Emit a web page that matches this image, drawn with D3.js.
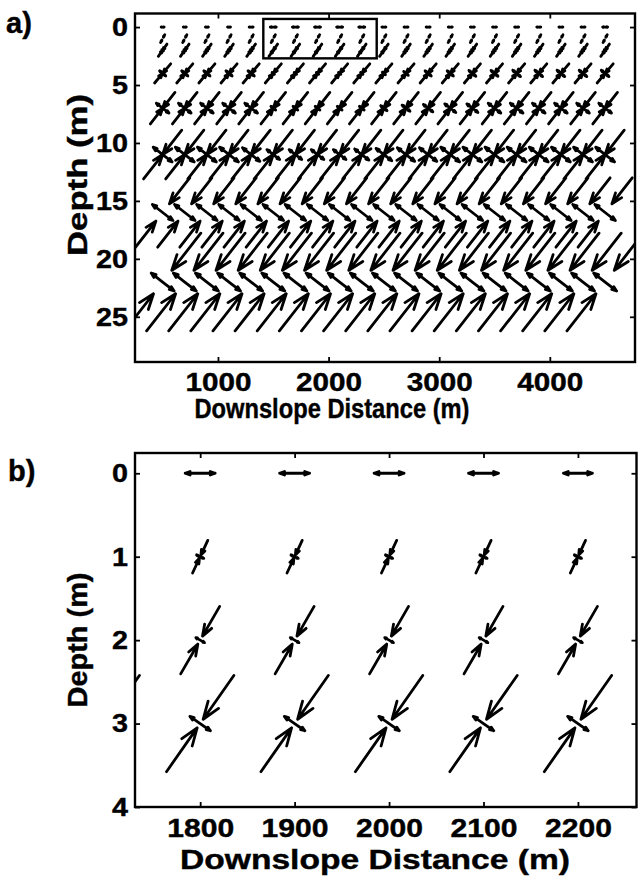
<!DOCTYPE html>
<html><head><meta charset="utf-8">
<script src="https://cdn.jsdelivr.net/npm/d3@7"></script>
<style>
body{margin:0;background:#fff}
svg text{font-family:"Liberation Sans",Arial,Helvetica,sans-serif;font-weight:bold;fill:#000;stroke:#000;stroke-width:0.4}
</style>
</head><body>
<svg id="chart" width="639" height="880"></svg>
<script>
// ---------------- Panel a data ----------------
const distA  = [500,700,900,1100,1300,1500,1700,1900,2100,2300,2500,2700,2900,3100,3300,3500,3700,3900,4100,4300,4500];
const depthA = [0,1,2,4,7,11,16,22];
// orientation of principal stress 1 (degrees from horizontal, as plotted)
const angleA = [0,62,55,50,52,52,52,52];
// principal stress 1 (kPa, negative = compression), one row per depth
const s1A = [
  [3,3,3,3,4,6,6,6,6,6,4,4,4,4,4,4,4,4,4,4,5],
  [-9,-9,-9,-9,-9,-9,-9,-9,-9,-9,-9,-9,-9,-9,-9,-9,-9,-9,-9,-9,-9],
  [-15,-15,-15,-15,-15,-15,-15,-15,-15,-15,-15,-15,-15,-15,-15,-15,-15,-15,-15,-15,-15],
  [-25,-25,-25,-25,-25,-25,-25,-25,-25,-25,-25,-25,-25,-25,-25,-25,-25,-25,-25,-25,-25],
  [-40,-40,-40,-40,-40,-40,-40,-40,-40,-40,-40,-40,-40,-40,-40,-40,-40,-40,-40,-40,-40],
  [-62,-62,-62,-62,-62,-62,-62,-62,-62,-62,-62,-62,-62,-62,-62,-62,-62,-62,-62,-62,-62],
  [-88,-88,-88,-88,-88,-88,-88,-88,-88,-88,-88,-88,-88,-88,-88,-88,-88,-88,-88,-88,-88],
  [-124,-124,-124,-124,-124,-124,-124,-124,-124,-124,-124,-124,-124,-124,-124,-124,-124,-124,-124,-124,-124]
];
// principal stress 2 (kPa), perpendicular to stress 1
const s2A = [
  [0,0,0,0,0,0,0,0,0,0,0,0,0,0,0,0,0,0,0,0,0],
  [0,0,0,0,0,0,0,0,0,0,0,0,0,0,0,0,0,0,0,0,0],
  [2,2,2,2,2,1,1,1,1,1,1,2,2,2,2,2,2,2,2,2,2],
  [8,8,8,8,8,3,3,3,3,3,4,6,8,8,9,9,10,10,10,10,10],
  [16,16,16,16,16,6,6,6,6,6,8,10,12,14,14,16,16,16,16,16,16],
  [24,24,24,24,22,16,16,16,16,18,20,22,22,24,24,24,24,24,24,24,24],
  [26,26,26,26,26,26,26,26,26,26,26,26,26,26,26,26,26,26,26,26,26],
  [29,29,29,29,29,29,29,29,29,29,29,29,29,29,29,29,29,29,29,29,29]
];
const xTicksA = [1000,2000,3000,4000];
const yTicksA = [0,5,10,15,20,25];
const insetA  = {x0:1410, x1:2435, d0:-0.7, d1:2.7}; // region shown in panel b

// ---------------- Panel b data ----------------
const distB  = [1700,1800,1900,2000,2100,2200,2300];
const depthB = [0,1,2,3];
const angleB = [0,65,60,55];
const s1B = [
  [6,6,6,6,6,5.8,6],
  [-7.2,-7.2,-7.2,-7.2,-7.2,-7.2,-7.2],
  [-15.6,-15.6,-15.6,-15.6,-15.6,-15.6,-15.6],
  [-23.5,-23.5,-23.5,-23.5,-23.5,-23.5,-23.5]
];
const s2B = [
  [0,0,0,0,0,0,0],
  [1.6,1.6,1.6,1.6,1.6,1.6,1.6],
  [2,2,2,2,2,2,2],
  [5,5,5,5,5,5,5]
];
const xTicksB = [1800,1900,2000,2100,2200];
const yTicksB = [0,1,2,3,4];

// ---------------- drawing ----------------
const svg = d3.select("#chart");
const LW = 2.8;
// style: fraction of each compression arrow left empty around the node, per row
const gapA = [0,0.35,0.05,0.05,0,0,0.25,0.24];
const gapB = [0,0.1,0.12,0.09];

function arrowPath(x0,y0,x1,y1){
  const u=x1-x0, v=y1-y0, a=0.33, b=0.36;
  return `M${x0},${y0}L${x1},${y1}` +
    `M${x1-a*(u+b*v)},${y1-a*(v-b*u)}L${x1},${y1}L${x1-a*(u-b*v)},${y1-a*(v+b*u)}`;
}
function glyph(g,cx,cy,s1,s2,angDeg,k,gap){
  const t = angDeg*Math.PI/180;
  const dirs = [[Math.cos(t),-Math.sin(t),s1],[Math.sin(t),Math.cos(t),s2]];
  let d = "";
  dirs.forEach(([dx,dy,s])=>{
    const L = Math.abs(s)*k;
    if(L<0.01) return;
    [1,-1].forEach(sg=>{
      const ex = cx+sg*L*dx, ey = cy+sg*L*dy;
      if(s>0) d += arrowPath(cx,cy,ex,ey);
      else d += arrowPath(ex,ey,cx+sg*gap*L*dx,cy+sg*gap*L*dy);
    });
  });
  if(d) g.append("path").attr("d",d).attr("fill","none").attr("stroke","#000")
    .attr("stroke-width",LW).attr("stroke-linecap","round").attr("stroke-linejoin","round");
}

function panel(cfg){
  const {id,box,xDom,yDom,dist,depth,ang,s1,s2,k,gap,xTicks,yTicks} = cfg;
  const x = d3.scaleLinear().domain(xDom).range([box.l,box.r]);
  const y = d3.scaleLinear().domain(yDom).range([box.t,box.b]);
  const g = svg.append("g");
  svg.append("clipPath").attr("id","clip"+id).append("rect")
    .attr("x",box.l).attr("y",box.t).attr("width",box.r-box.l).attr("height",box.b-box.t);
  const gq = g.append("g").attr("clip-path",`url(#clip${id})`);
  depth.forEach((dp,i)=>{
    dist.forEach((xv,j)=>{
      glyph(gq,x(xv),y(dp),s1[i][j],s2[i][j],ang[i],k,gap[i]);
    });
  });
  const ts = 5;
  const ax = (axis, tr) => g.append("g").attr("transform",tr).call(axis)
      .call(s=>s.select(".domain").remove())
      .call(s=>s.selectAll("line").attr("stroke","#000").attr("stroke-width",1.8));
  const bx = ax(d3.axisBottom(x).tickValues(xTicks).tickSize(-ts).tickPadding(cfg.xPad).tickFormat(d3.format("d")), `translate(0,${box.b})`);
  ax(d3.axisTop(x).tickValues(xTicks).tickSize(-ts).tickFormat(""), `translate(0,${box.t})`);
  const ly = ax(d3.axisLeft(y).tickValues(yTicks).tickSize(-ts).tickPadding(7).tickFormat(d3.format("d")), `translate(${box.l},0)`);
  ax(d3.axisRight(y).tickValues(yTicks).tickSize(-ts).tickFormat(""), `translate(${box.r},0)`);
  bx.selectAll("text").attr("font-size",25).attr("font-family",null).attr("dy","0.71em")
    .attr("textLength",cfg.xTickLen).attr("lengthAdjust","spacingAndGlyphs");
  ly.selectAll("text").attr("font-size",26).attr("font-family",null)
    .each(function(d){ d3.select(this).attr("textLength", String(d).length*cfg.yDigitW).attr("lengthAdjust","spacingAndGlyphs"); });
  g.append("rect").attr("x",box.l).attr("y",box.t).attr("width",box.r-box.l).attr("height",box.b-box.t)
    .attr("fill","none").attr("stroke","#000").attr("stroke-width",2.4);
  return {x,y,g};
}

const A = panel({id:"a",box:{l:135,r:635,t:13.5,b:362},xDom:[250,4770],yDom:[-1.17,28.9],
  dist:distA,depth:depthA,ang:angleA,s1:s1A,s2:s2A,k:0.5,gap:gapA,xTicks:xTicksA,yTicks:yTicksA,
  xTickLen:66,yDigitW:16,xPad:11});
A.g.append("rect").attr("x",A.x(insetA.x0)).attr("y",A.y(insetA.d0))
  .attr("width",A.x(insetA.x1)-A.x(insetA.x0)).attr("height",A.y(insetA.d1)-A.y(insetA.d0))
  .attr("fill","none").attr("stroke","#000").attr("stroke-width",2.4);

const B = panel({id:"b",box:{l:135,r:636.5,t:453,b:807},xDom:[1731,2262],yDom:[-0.243,4],
  dist:distB,depth:depthB,ang:angleB,s1:s1B,s2:s2B,k:2.5,gap:gapB,xTicks:xTicksB,yTicks:yTicksB,
  xTickLen:67,yDigitW:16,xPad:12});

// labels
function label(txt,x,y,size,len,rot){
  const t = svg.append("text").text(txt).attr("font-size",size).attr("text-anchor","middle")
    .attr("textLength",len).attr("lengthAdjust","spacingAndGlyphs");
  if(rot) t.attr("transform",`translate(${x},${y}) rotate(-90)`);
  else t.attr("x",x).attr("y",y);
}
label("Downslope Distance (m)",332,418,27,275,false);
label("Depth (m)",87,175,28,162,true);
label("Downslope  Distance (m)",375,869,27,390,false);
label("Depth (m)",87,640,28,135,true);
svg.append("text").text("a)").attr("x",6).attr("y",33).attr("font-size",29);
svg.append("text").text("b)").attr("x",8).attr("y",481).attr("font-size",29);
</script>
</body></html>
